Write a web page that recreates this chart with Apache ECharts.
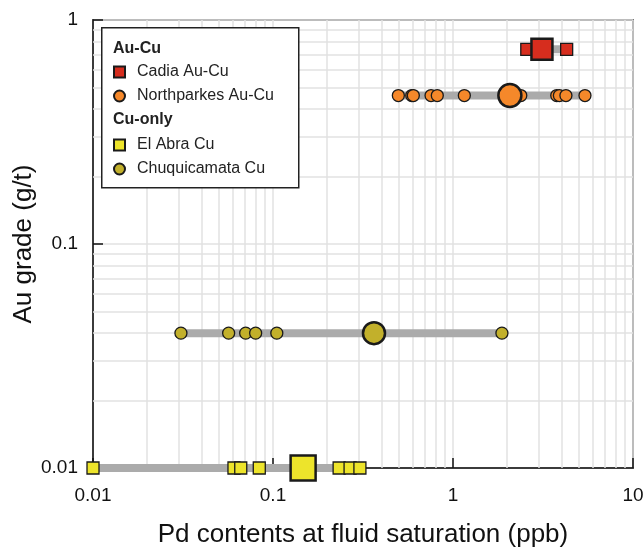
<!DOCTYPE html>
<html>
<head>
<meta charset="utf-8">
<script src="https://cdn.jsdelivr.net/npm/echarts@6/dist/echarts.min.js"></script>
<style>
  html, body { margin: 0; padding: 0; background: #fff; }
  #chart { width: 644px; height: 552px; }
</style>
</head>
<body>
<div id="chart"></div>
<script>
// Pd contents at fluid saturation (ppb), one entry per sample
const cadiaPd = [2.57, 4.28];
const cadiaMean = 3.12;
const cadiaAu = 0.74;

const northparkesPd = [0.497, 0.59, 0.602, 0.755, 0.818, 1.156, 2.38, 3.77, 3.9, 4.24, 5.41];
const northparkesMean = 2.07;
const northparkesAu = 0.46;

const elAbraPd = [0.01, 0.0607, 0.0662, 0.0839, 0.233, 0.268, 0.304];
const elAbraMean = 0.147;
const elAbraAu = 0.01;

const chuquiPd = [0.0308, 0.0567, 0.0705, 0.0801, 0.105, 1.87];
const chuquiMean = 0.364;
const chuquiAu = 0.04;

// minor grid values
const xMinor = [0.02, 0.03, 0.04, 0.05, 0.06, 0.07, 0.08, 0.09,
  0.2, 0.3, 0.4, 0.5, 0.6, 0.7, 0.8, 0.9,
  2, 3, 4, 5, 6, 7, 8, 9];
const yMinor = [0.02, 0.03, 0.04, 0.05, 0.06, 0.07, 0.08, 0.09,
  0.2, 0.3, 0.4, 0.5, 0.6, 0.7, 0.8, 0.9];

const gridColor = '#e2e2e2';
const edge = '#1a1a1a';

function rangeLine(xs, y) {
  return {
    type: 'line',
    data: [[Math.min(...xs), y], [Math.max(...xs), y]],
    symbol: 'none',
    silent: true,
    z: 2,
    lineStyle: { color: '#ababab', width: 8, cap: 'square' }
  };
}

function points(name, xs, y, symbol, color, size) {
  return {
    name: name,
    type: 'scatter',
    symbol: symbol,
    symbolSize: size,
    z: 3,
    itemStyle: { color: color, borderColor: edge, borderWidth: 1.3, opacity: 1 },
    data: xs.map(x => [x, y])
  };
}

function meanPoint(name, x, y, symbol, color, size) {
  return {
    name: name,
    type: 'scatter',
    symbol: symbol,
    symbolSize: size,
    z: 4,
    itemStyle: { color: color, borderColor: edge, borderWidth: 2.5, opacity: 1 },
    data: [[x, y]]
  };
}

const chart = echarts.init(document.getElementById('chart'));
const font = 'Liberation Sans, Arial, sans-serif';

const option = {
  animation: false,
  textStyle: { fontFamily: font },
  grid: {
    left: 93, right: 11, top: 20, bottom: 84,
    outerBoundsMode: 'none', containLabel: false,
    show: true, borderColor: '#111', borderWidth: 1.5
  },
  xAxis: {
    type: 'log', logBase: 10, min: 0.01, max: 10,
    name: 'Pd contents at fluid saturation (ppb)',
    nameLocation: 'middle', nameGap: 54, nameMoveOverlap: false,
    nameTextStyle: { fontSize: 26, color: '#111' },
    axisLine: { lineStyle: { color: '#111', width: 1.5 } },
    axisTick: { inside: true, length: 10, lineStyle: { color: '#111', width: 1.5 } },
    axisLabel: { fontSize: 19, color: '#111', margin: 18 },
    splitLine: { show: true, lineStyle: { color: gridColor, width: 1.5 } }
  },
  yAxis: {
    type: 'log', logBase: 10, min: 0.01, max: 1,
    name: 'Au grade (g/t)',
    nameLocation: 'middle', nameGap: 56, nameMoveOverlap: false,
    nameTextStyle: { fontSize: 26, color: '#111' },
    axisLine: { lineStyle: { color: '#111', width: 1.5 } },
    axisTick: { inside: true, length: 10, lineStyle: { color: '#111', width: 1.5 } },
    axisLabel: { fontSize: 19, color: '#111', margin: 15 },
    splitLine: { show: true, lineStyle: { color: gridColor, width: 1.5 } }
  },
  legend: [
    {
      orient: 'vertical', left: 113, top: 64, padding: 0, z: 60,
      itemWidth: 11, itemHeight: 11, itemGap: 8,
      textStyle: { fontSize: 16, color: '#222', padding: [0, 0, 0, 7] },
      data: [{ name: 'Cadia Au-Cu', icon: 'rect' }, { name: 'Northparkes Au-Cu', icon: 'circle' }]
    },
    {
      orient: 'vertical', left: 113, top: 137, padding: 0, z: 60,
      itemWidth: 11, itemHeight: 11, itemGap: 8,
      textStyle: { fontSize: 16, color: '#222', padding: [0, 0, 0, 7] },
      data: [{ name: 'El Abra Cu', icon: 'rect' }, { name: 'Chuquicamata Cu', icon: 'circle' }]
    }
  ],
  graphic: [
    {
      type: 'rect', left: 101, top: 27, z: 50,
      shape: { width: 197, height: 160 },
      style: { fill: '#fff', stroke: '#222', lineWidth: 1.5 }
    },
    {
      type: 'text', left: 113, top: 41, z: 51,
      style: { text: 'Au-Cu', font: 'bold 16px ' + font, fill: '#222' }
    },
    {
      type: 'text', left: 113, top: 112, z: 51,
      style: { text: 'Cu-only', font: 'bold 16px ' + font, fill: '#222' }
    }
  ],
  series: [
    {
      type: 'line', data: [], silent: true, z: 1,
      markLine: {
        silent: true, symbol: 'none', label: { show: false }, z: 1,
        lineStyle: { color: gridColor, width: 1.5, type: 'solid' },
        data: xMinor.map(v => ({ xAxis: v })).concat(yMinor.map(v => ({ yAxis: v })))
      }
    },
    rangeLine(cadiaPd.concat([cadiaMean]), cadiaAu),
    rangeLine(northparkesPd.concat([northparkesMean]), northparkesAu),
    rangeLine(chuquiPd.concat([chuquiMean]), chuquiAu),
    rangeLine(elAbraPd.concat([elAbraMean]), elAbraAu),
    points('Cadia Au-Cu', cadiaPd, cadiaAu, 'rect', '#d62d1e', 12),
    points('Northparkes Au-Cu', northparkesPd, northparkesAu, 'circle', '#f5882a', 12),
    points('El Abra Cu', elAbraPd, elAbraAu, 'rect', '#ede42b', 12),
    points('Chuquicamata Cu', chuquiPd, chuquiAu, 'circle', '#c2b02b', 12),
    meanPoint('Cadia Au-Cu', cadiaMean, cadiaAu, 'rect', '#d62d1e', 21),
    meanPoint('Northparkes Au-Cu', northparkesMean, northparkesAu, 'circle', '#f5882a', 23),
    meanPoint('El Abra Cu', elAbraMean, elAbraAu, 'rect', '#ede42b', 25),
    meanPoint('Chuquicamata Cu', chuquiMean, chuquiAu, 'circle', '#c2b02b', 22)
  ]
};

chart.setOption(option);
</script>
</body>
</html>
